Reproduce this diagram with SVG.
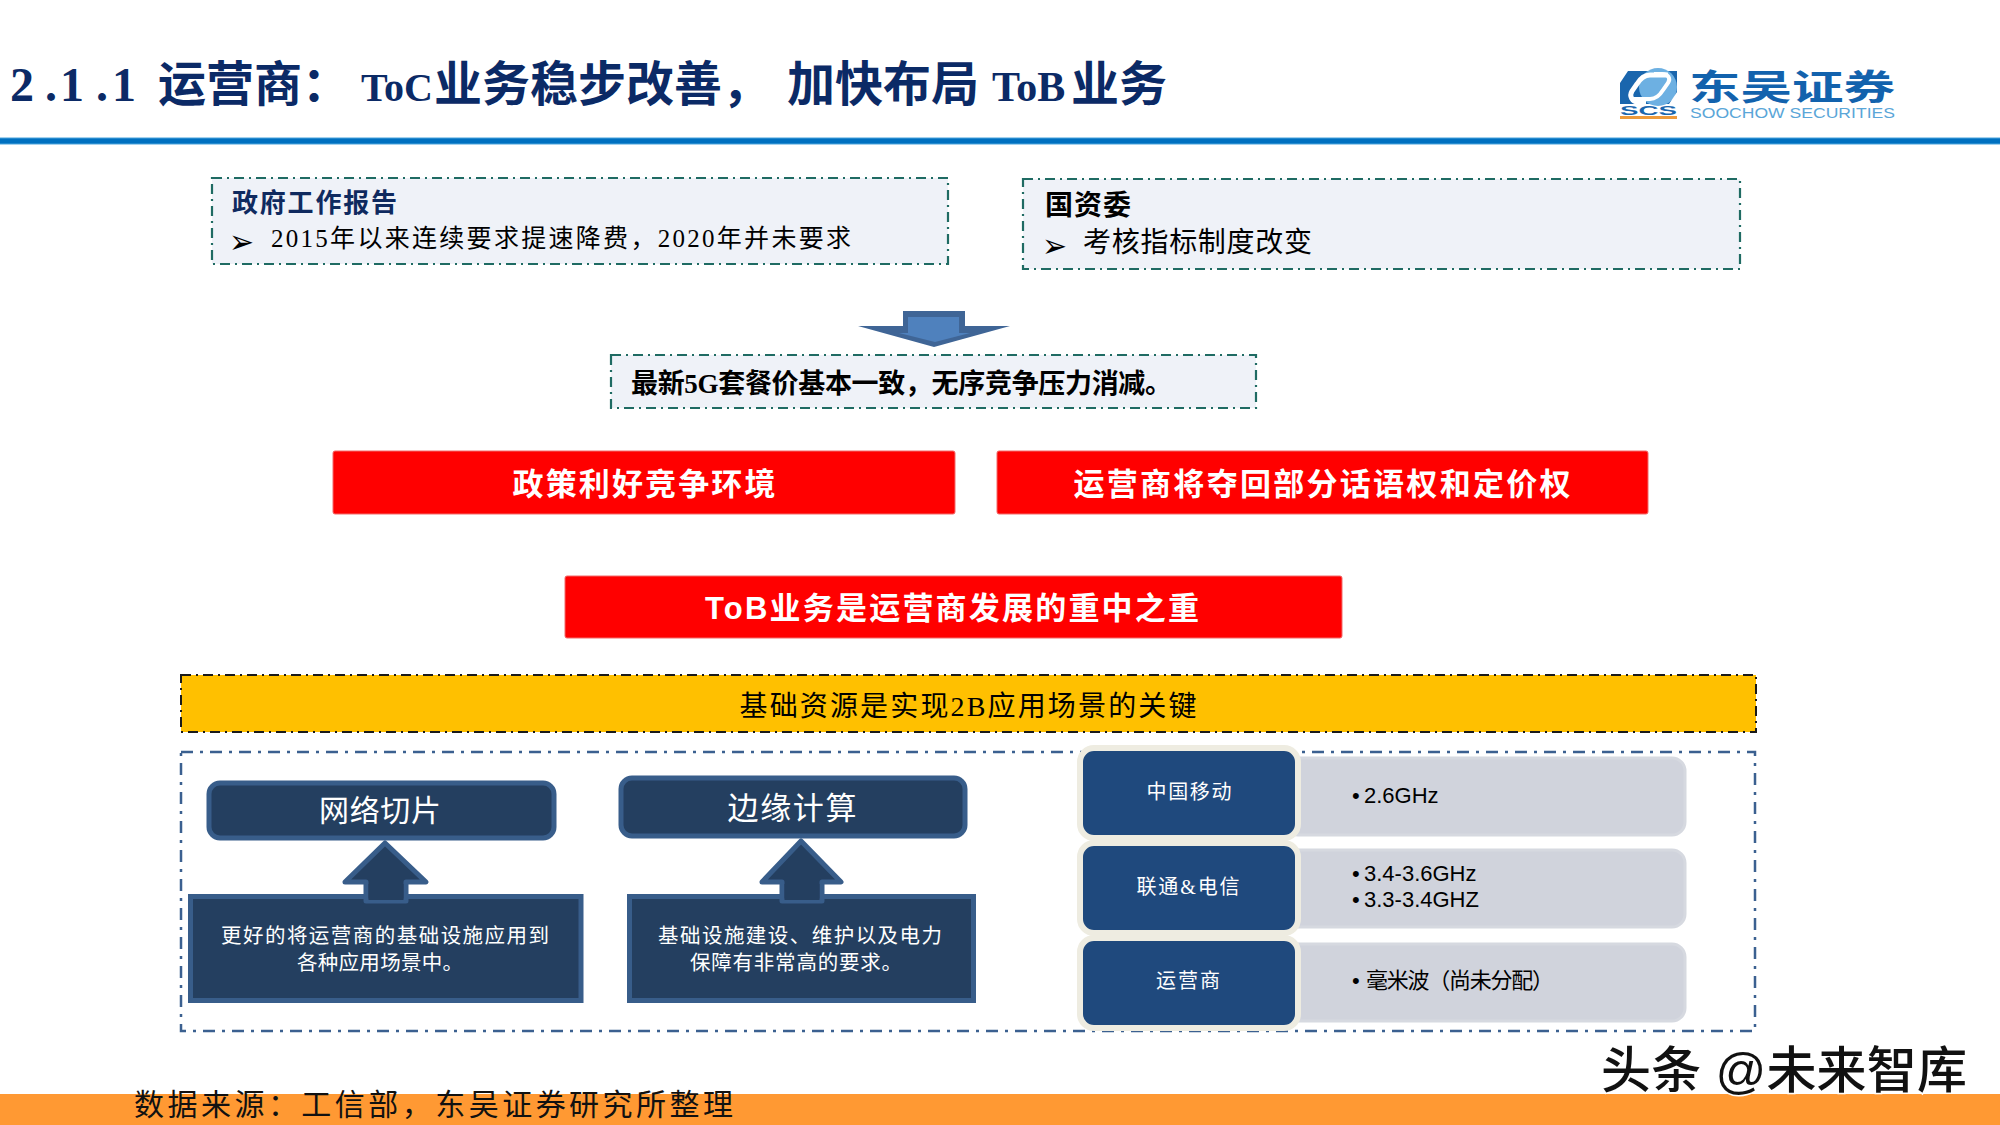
<svg xmlns="http://www.w3.org/2000/svg" width="2000" height="1125" viewBox="0 0 2000 1125">
<style>
text{font-family:"Liberation Serif","Noto Sans CJK SC",serif}
.sans{font-family:"Liberation Sans","Noto Sans CJK SC",sans-serif}
.note{fill:#eff2f8;stroke:#1f6b63;stroke-width:2.2;stroke-dasharray:10 5 2 5}
.red{fill:#ff0000;stroke:#f26a6a;stroke-width:1}
.redt{fill:#fff;font-size:31px;font-weight:700;text-anchor:middle}
.dark{fill:#243f60;stroke:#385d8a;stroke-width:5;stroke-linejoin:round}
.box{fill:#243f60;stroke:#385d8a;stroke-width:5}
.wt{fill:#fff;text-anchor:middle}
.blue{fill:#1f497d;stroke:#eeece1;stroke-width:6}
.grey{fill:#d0d3dc;stroke:#d6d9e0;stroke-width:3}
.lab{fill:#fff;font-size:20px;text-anchor:middle}
.val{fill:#000;font-size:22px}
.bul{font-family:"DejaVu Sans",sans-serif;font-size:22px;fill:#000}
</style>
<rect width="2000" height="1125" fill="#fff"/>
<g id="header">
<text y="101" font-size="48" font-weight="700" fill="#0b2a66"><tspan x="10 45 60 96 112">2.1.1</tspan><tspan x="158">运营商：</tspan><tspan x="361" font-size="40">ToC</tspan><tspan x="434">业务稳步改善，</tspan><tspan x="787">加快布局</tspan><tspan x="992" font-size="42">ToB</tspan><tspan x="1071">业务</tspan></text>
<rect x="0" y="138" width="2000" height="6" fill="#0070c0"/>
<rect x="0" y="137.500" width="2000" height="1" fill="#4aa3dc"/>
<rect x="0" y="143.500" width="2000" height="1" fill="#4aa3dc"/>
</g>
<g id="logo">
<rect x="1620" y="71" width="57" height="33" fill="#1a66ad"/>
<circle cx="1658" cy="87" r="19" fill="#6db0e2"/>
<path d="M1620 71h8l-8 12z M1677 104h-8l8-12z" fill="#fff"/>
<path d="M1668 75h-18c-6 0-10 4-13 9l-5 7c-3 5 0 11 6 11h8" fill="none" stroke="#fff" stroke-width="5"/>
<path d="M1632 99h18c6 0 10-4 13-9l5-7c3-5 0-9-6-9h-8" fill="none" stroke="#fff" stroke-width="4"/>
<text class="sans" x="1620" y="115" font-size="13" font-weight="700" fill="#1a66ad" textLength="57" lengthAdjust="spacingAndGlyphs">SCS</text>
<rect x="1620" y="116" width="57" height="3" fill="#ee9a3a"/>
<text class="sans" x="1689" y="100" font-size="35" font-weight="700" fill="#1262ad" textLength="206" lengthAdjust="spacingAndGlyphs">东吴证券</text>
<text class="sans" x="1690" y="118" font-size="15" fill="#5aa6d8" textLength="205" lengthAdjust="spacingAndGlyphs">SOOCHOW SECURITIES</text>
</g>
<g id="node-gov">
<rect class="note" x="212" y="178" width="736" height="86"/>
<text x="232" y="212" font-size="26" font-weight="700" fill="#0f2a5f" textLength="165">政府工作报告</text>
<text class="bul" transform="translate(229 253) scale(1.36 1.5)">➢</text>
<text x="271" y="247" font-size="25" fill="#000" textLength="580">2015年以来连续要求提速降费，2020年并未要求</text>
</g>
<g id="node-sasac">
<rect class="note" x="1023" y="179" width="717" height="90"/>
<text x="1045" y="215" font-size="28" font-weight="700" fill="#000" textLength="86">国资委</text>
<text class="bul" transform="translate(1042 257) scale(1.36 1.5)">➢</text>
<text x="1083" y="252" font-size="28" fill="#000" textLength="229">考核指标制度改变</text>
</g>
<g id="node-5g">
<rect class="note" x="611" y="355" width="645" height="53"/>
<text x="631" y="393" font-size="27" font-weight="700" fill="#000" textLength="541">最新5G套餐价基本一致，无序竞争压力消减。</text>
</g>
<g id="node-policy">
<rect class="red" x="333" y="451" width="622" height="63" rx="2"/>
<text class="redt" x="644" y="495" textLength="263">政策利好竞争环境</text>
</g>
<g id="node-pricing">
<rect class="red" x="997" y="451" width="651" height="63" rx="2"/>
<text class="redt" x="1322" y="495" textLength="497">运营商将夺回部分话语权和定价权</text>
</g>
<g id="node-tob">
<rect class="red" x="565" y="576" width="777" height="62" rx="2"/>
<text class="redt sans" x="952" y="619" textLength="494">ToB业务是运营商发展的重中之重</text>
</g>
<g id="node-key">
<rect x="181" y="675" width="1575" height="57" fill="#ffc000" stroke="#1a1a1a" stroke-width="2" stroke-dasharray="10 5 2 5"/>
<text x="968" y="716" font-size="28" fill="#000" text-anchor="middle" textLength="457">基础资源是实现2B应用场景的关键</text>
</g>
<g id="frame">
<rect x="181" y="752" width="1574" height="279" fill="none" stroke="#3b6090" stroke-width="2.500" stroke-dasharray="12 7 3 7"/>
</g>
<g id="node-slice">
<rect class="dark" x="209" y="783" width="345" height="55" rx="11"/>
<text class="wt" x="380" y="821" font-size="30" textLength="122">网络切片</text>
</g>
<g id="node-edge">
<rect class="dark" x="621" y="778" width="344" height="58" rx="11"/>
<text class="wt" x="792" y="819" font-size="31" textLength="129">边缘计算</text>
</g>
<g id="node-slice-desc">
<rect class="box" x="190.500" y="896.500" width="390.500" height="104"/>
<text class="wt" x="385" y="943" font-size="20.500" textLength="328">更好的将运营商的基础设施应用到</text>
<text class="wt" x="380" y="970" font-size="20.500" textLength="166">各种应用场景中。</text>
</g>
<g id="node-edge-desc">
<rect class="box" x="629.500" y="896.500" width="344" height="104"/>
<text class="wt" x="800" y="943" font-size="20.500" textLength="284">基础设施建设、维护以及电力</text>
<text class="wt" x="796" y="970" font-size="20.500" textLength="212">保障有非常高的要求。</text>
</g>
<g id="node-mobile">
<rect class="grey" x="1285" y="758" width="400" height="77" rx="13"/>
<rect class="blue" x="1080" y="748" width="218" height="90" rx="14"/>
<text class="lab" x="1189" y="799" textLength="85">中国移动</text>
<text class="val sans" x="1352" y="803">•</text>
<text class="val sans" x="1364" y="803">2.6GHz</text>
</g>
<g id="node-unicom">
<rect class="grey" x="1285" y="850" width="400" height="77" rx="13"/>
<rect class="blue" x="1080" y="843" width="218" height="90" rx="14"/>
<text class="lab" x="1188" y="894" textLength="103">联通&amp;电信</text>
<text class="val sans" x="1352" y="881">•</text>
<text class="val sans" x="1364" y="881">3.4-3.6GHz</text>
<text class="val sans" x="1352" y="907">•</text>
<text class="val sans" x="1364" y="907">3.3-3.4GHZ</text>
</g>
<g id="node-carrier">
<rect class="grey" x="1285" y="944" width="400" height="77" rx="13"/>
<rect class="blue" x="1080" y="938" width="218" height="90" rx="14"/>
<text class="lab" x="1188" y="988" textLength="64">运营商</text>
<text class="val sans" x="1352" y="988">•</text>
<text class="val" x="1366" y="988" font-size="21" textLength="188">毫米波（尚未分配）</text>
</g>
<g id="connectors">
<path d="M903 311H965V326H1010L934 347L858 326H903Z" fill="#3f6596"/>
<path d="M908 317H959V333H970L935 342L899 333H908Z" fill="#4f81bd"/>
<path d="M385 843L426 882H406V901H366V882H345Z" class="dark"/>
<rect x="368.500" y="884" width="35" height="16" fill="#243f60"/>
<path d="M801 841L841 882H822V901H782V882H762Z" class="dark"/>
<rect x="784.500" y="884" width="35" height="16" fill="#243f60"/>
</g>
<g id="footer">
<rect x="0" y="1094" width="2000" height="31" fill="#ff9933"/>
<text x="134" y="1115" font-size="30" fill="#111" textLength="599">数据来源：工信部，东吴证券研究所整理</text>
<text class="sans" x="1601" y="1088" font-size="50" font-weight="500" fill="#111" stroke="#fff" stroke-width="3" paint-order="stroke" textLength="366">头条 @未来智库</text>
</g>
</svg>
